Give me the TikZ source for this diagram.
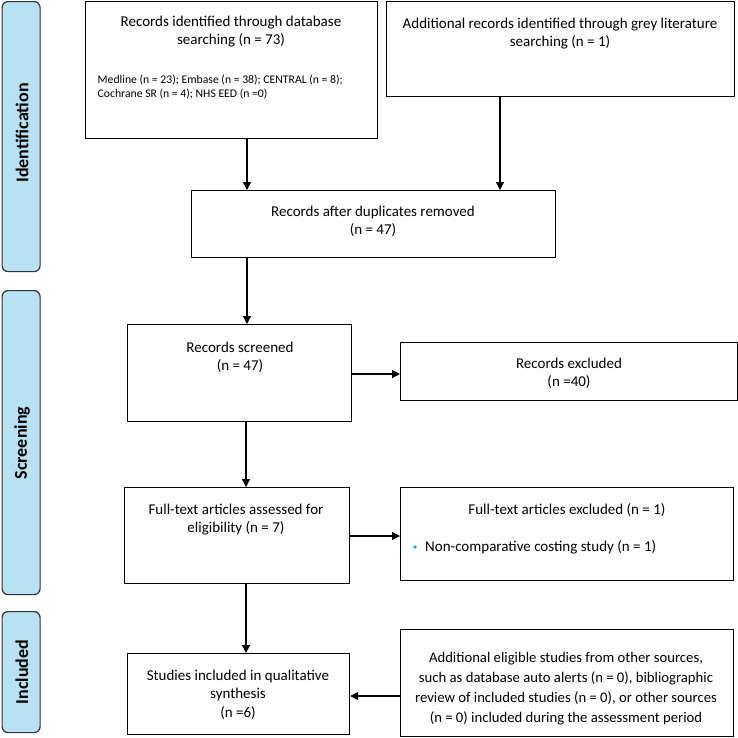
\documentclass[tikz,border=0pt]{standalone}
\usepackage{fontspec}
\setmainfont{Carlito}
\usetikzlibrary{arrows.meta}
\definecolor{sidefill}{HTML}{B8E2F4}
\definecolor{sidedraw}{HTML}{333333}
\definecolor{bulletblue}{HTML}{1BA1E2}
\tikzset{
  box/.style={draw=black, line width=1.2pt, rectangle, anchor=north west, inner sep=0pt},
  side/.style={draw=sidedraw, fill=sidefill, line width=1.2pt, rounded corners=6pt, anchor=north west, inner sep=0pt},
  sidetxt/.style={rotate=90, font=\fontsize{18}{20}\selectfont\bfseries, inner sep=0pt},
  txt/.style={align=center, font=\fontsize{15}{18}\selectfont, inner sep=0pt},
  midtxt/.style={align=center, font=\fontsize{14.7}{20}\selectfont, inner sep=0pt},
  smalltxt/.style={align=left, font=\fontsize{11.7}{14}\selectfont, inner sep=0pt},
  arr/.style={-{Triangle[length=8pt,width=8pt]}, line width=1.2pt},
}
\begin{document}
\begin{tikzpicture}[x=1pt,y=-1pt]
\useasboundingbox (0,0) rectangle (738,737);

% side bars
\node[side, minimum width=38pt, minimum height=270pt] (sid) at (1.5,1) {};
\node[sidetxt] (sidt) at (22,133) {Identification};
\node[side, minimum width=38pt, minimum height=304pt] (sscr) at (1.5,290) {};
\node[sidetxt] (sscrt) at (22,443) {Screening};
\node[side, minimum width=38pt, minimum height=121pt] (sinc) at (1.5,611) {};
\node[sidetxt] (sinct) at (22,672) {Included};

% boxes
\node[box, minimum width=292pt, minimum height=137pt] (db) at (85,1) {};
\node[txt] (dbt) at (231,32) {Records identified through database\\searching (n = 73)};
\node[smalltxt, anchor=west] (dbs) at (97.5,87) {Medline (n = 23); Embase (n = 38); CENTRAL (n = 8);\\Cochrane SR (n = 4); NHS EED (n =0)};

\node[box, minimum width=348pt, minimum height=95pt] (grey) at (386,1) {};
\node[txt] (greyt) at (560,33.5) {Additional records identified through grey literature\\searching (n = 1)};

\node[box, minimum width=364pt, minimum height=67pt] (dup) at (191,190) {};
\node[txt] (dupt) at (373,221) {Records after duplicates removed\\(n = 47)};

\node[box, minimum width=224pt, minimum height=97pt] (scr) at (127,324) {};
\node[txt] (scrt) at (240,357.5) {Records screened\\(n = 47)};

\node[box, minimum width=337pt, minimum height=58pt] (exc) at (400,342) {};
\node[txt] (exct) at (569,373.5) {Records excluded\\(n =40)};

\node[box, minimum width=225pt, minimum height=96pt] (ft) at (124,487) {};
\node[txt] (ftt) at (236,520) {Full-text articles assessed for\\eligibility (n = 7)};

\node[box, minimum width=333pt, minimum height=93pt] (ftx) at (400,487) {};
\node[txt] (ftxt) at (567,510) {Full-text articles excluded (n = 1)};
\node[circle, fill=bulletblue, inner sep=0pt, minimum size=3.6pt] (bul) at (415,547) {};
\node[txt, anchor=west] (ftxb) at (425,547) {Non-comparative costing study (n = 1)};

\node[box, minimum width=222pt, minimum height=81pt] (inc) at (127,653) {};
\node[txt, font=\fontsize{15}{18.5}\selectfont] (inct) at (238,694.5) {Studies included in qualitative\\synthesis\\(n =6)};

\node[box, minimum width=333pt, minimum height=107pt] (add) at (400,629) {};
\node[midtxt] (addt) at (566,689) {Additional eligible studies from other sources,\\such as database auto alerts (n = 0), bibliographic\\review of included studies (n = 0), or other sources\\(n = 0) included during the assessment period};

% connector guides
\coordinate (xa) at (247,0);
\coordinate (xb) at (500,0);
\coordinate (xc) at (246,0);
\coordinate (ya) at (0,374);
\coordinate (yb) at (0,536);
\coordinate (yc) at (0,696);

\draw[arr] (xa |- db.south) -- (xa |- dup.north);
\draw[arr] (xb |- grey.south) -- (xb |- dup.north);
\draw[arr] (xa |- dup.south) -- (xa |- scr.north);
\draw[arr] (scr.east |- ya) -- (exc.west |- ya);
\draw[arr] (xc |- scr.south) -- (xc |- ft.north);
\draw[arr] (ft.east |- yb) -- (ftx.west |- yb);
\draw[arr] (xc |- ft.south) -- (xc |- inc.north);
\draw[arr] (add.west |- yc) -- (inc.east |- yc);
\end{tikzpicture}
\end{document}
